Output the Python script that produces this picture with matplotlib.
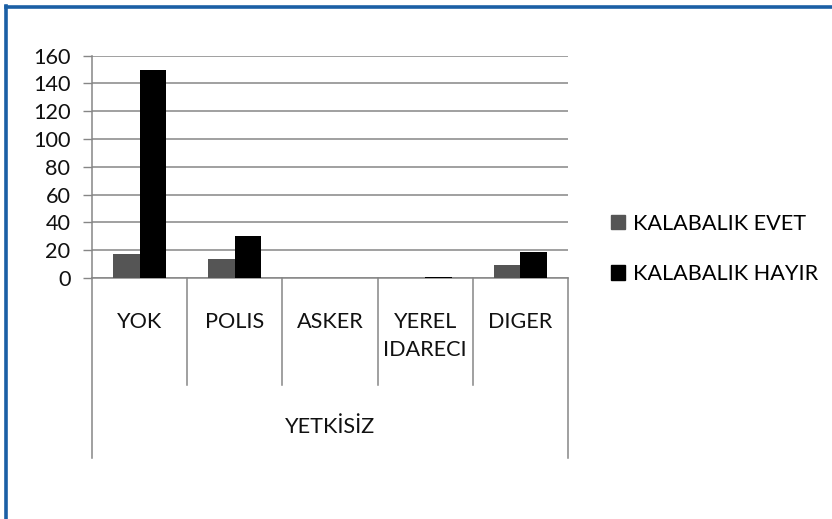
import matplotlib.pyplot as plt
import matplotlib.patches as mpatches
import numpy as np

# Veri
categories = ["YOK", "POLIS", "ASKER", "YEREL\nIDARECI", "DIGER"]
group_label = "YETKİSİZ"
series_names = ["KALABALIK EVET", "KALABALIK HAYIR"]
evet = [17, 14, 0, 0, 9]
hayir = [150, 30, 0, 1, 19]
y_ticks = [0, 20, 40, 60, 80, 100, 120, 140, 160]

EVET_COLOR = "#555555"
HAYIR_COLOR = "#000000"
GRID_COLOR = "#868686"
BORDER_COLOR = "#1b5fa5"
FS = 15.6

plt.rcParams["font.family"] = ["Lato", "DejaVu Sans"]

fig = plt.figure(figsize=(8.32, 5.19), dpi=100)
W, H = 832, 519

# Plot-område i pixel
x0, x1 = 92, 568
y_top, y_bot = 55.7, 278
ax = fig.add_axes([x0 / W, 1 - y_bot / H, (x1 - x0) / W, (y_bot - y_top) / H])

x = np.arange(len(categories))
bw = 0.28
ax.bar(x - bw / 2, evet, bw, color=EVET_COLOR, label=series_names[0], zorder=3)
ax.bar(x + bw / 2, hayir, bw, color=HAYIR_COLOR, label=series_names[1], zorder=3)

ax.set_xlim(-0.5, len(categories) - 0.5)
ax.set_ylim(0, 160)
ax.set_yticks(y_ticks)
ax.tick_params(axis="y", labelsize=FS, length=6.5, width=1, color=GRID_COLOR,
               pad=9, labelcolor="#111111")
ax.set_xticks([])

ax.yaxis.grid(True, color=GRID_COLOR, linewidth=1.1, zorder=0)
for s in ["top", "right"]:
    ax.spines[s].set_visible(False)
ax.spines["left"].set_color(GRID_COLOR)
ax.spines["bottom"].set_color(GRID_COLOR)
ax.spines["left"].set_linewidth(1.1)
ax.spines["bottom"].set_linewidth(1.1)

# Kategoriakse med to niveauer
axh = y_bot - y_top
trans = ax.get_xaxis_transform()
inner_end = -(385 - y_bot) / axh
outer_end = -(458 - y_bot) / axh
for b in np.arange(0.5, len(categories) - 0.5, 1.0):
    ax.plot([b, b], [0, inner_end], color=GRID_COLOR, linewidth=1.1,
            transform=trans, clip_on=False)
for b in [-0.5, len(categories) - 0.5]:
    ax.plot([b, b], [0, outer_end], color=GRID_COLOR, linewidth=1.1,
            transform=trans, clip_on=False)

label_top = -(312 - y_bot) / axh
for xi, cat in zip(x, categories):
    ax.text(xi, label_top, cat, transform=trans, ha="center", va="top",
            fontsize=FS, linespacing=1.5, color="#111111")

ax.text((len(categories) - 1) / 2, -(427 - y_bot) / axh, group_label,
        transform=trans, ha="center", va="center", fontsize=FS, color="#111111")

# Legend
handles = [mpatches.Patch(color=EVET_COLOR, label=series_names[0]),
           mpatches.Patch(color=HAYIR_COLOR, label=series_names[1])]
fig.legend(handles=handles, loc="center left",
           bbox_to_anchor=(591 / W, 1 - 249 / H), frameon=False,
           fontsize=FS, handlelength=0.65, handleheight=0.65,
           handletextpad=0.4, labelspacing=1.4)

# Blå ramme
fig.add_artist(plt.Line2D([5.5 / W, 5.5 / W], [0, 1 - 6 / H], color=BORDER_COLOR,
                          linewidth=2.6, transform=fig.transFigure))
fig.add_artist(plt.Line2D([5.5 / W, 1], [1 - 7 / H, 1 - 7 / H], color=BORDER_COLOR,
                          linewidth=2.6, transform=fig.transFigure))

fig.savefig("out.png", dpi=100)
